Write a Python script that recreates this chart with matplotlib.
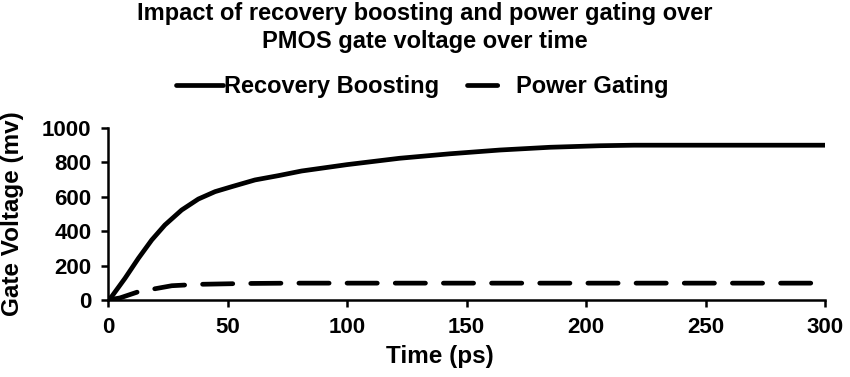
import matplotlib
matplotlib.use("Agg")
import matplotlib.pyplot as plt

plt.rcParams['font.family'] = ['Liberation Sans', 'DejaVu Sans']
plt.rcParams['font.weight'] = 'bold'

time_rb = [0, 1.5, 7.1, 12.7, 18.3, 23.8, 30.8, 37.8, 44.8, 51.8, 61.5, 71.3, 81,
           100, 122, 143, 164, 185, 206, 220, 250, 300]
volt_rb = [0, 19, 126, 242, 349, 436, 523, 587, 630, 659, 698, 723, 750,
           787, 824, 850, 872, 888, 897, 900, 900, 900]
time_pg = [0, 5, 12.7, 26.7, 37.7, 57, 77, 100, 150, 200, 250, 300]
volt_pg = [0, 12, 48, 83, 91, 96, 98, 98, 98, 98, 98, 98]

title = "Impact of recovery boosting and power gating over\nPMOS gate voltage over time"
xlabel = "Time (ps)"
ylabel = "Gate Voltage (mv)"
labels = ["Recovery Boosting", "Power Gating"]

fig = plt.figure(figsize=(8.5, 3.77), dpi=100)
ax = fig.add_axes([108 / 850, 1 - 300 / 377, 717 / 850, 172 / 377])

ax.plot(time_rb, volt_rb, color='black', lw=3.4, label=labels[0], solid_capstyle='round')
ax.plot(time_pg, volt_pg, color='black', lw=3.4, dashes=(6.4, 3.8),
        dash_capstyle='round', label=labels[1])

ax.set_xlim(0, 300)
ax.set_ylim(0, 1000)
ax.set_xticks([0, 50, 100, 150, 200, 250, 300])
ax.set_yticks([0, 200, 400, 600, 800, 1000])
for s in ['top', 'right']:
    ax.spines[s].set_visible(False)
for s in ['left', 'bottom']:
    ax.spines[s].set_linewidth(1.8)
ax.tick_params(direction='out', length=5, width=1.8, labelsize=16, pad=7)
for t in ax.get_xticklabels() + ax.get_yticklabels():
    t.set_fontweight('bold')
ax.set_xlabel(xlabel, fontsize=17.5, fontweight='bold')
ax.xaxis.set_label_coords((440 - 108) / 717, -(356 - 300) / 172)
ax.xaxis.label.set_verticalalignment('center')
ax.set_ylabel(ylabel, fontsize=17.5, fontweight='bold', labelpad=13)

fig.text(425 / 850, 1 - 2 / 377, title, ha='center', va='top', fontsize=17,
         fontweight='bold', linespacing=1.3)
leg = ax.legend(loc='center', bbox_to_anchor=((422 - 108) / 717, 1 + (300 - 87 - 172) / 172),
                ncol=2, frameon=False,
                prop={'size': 17, 'weight': 'bold'}, handlelength=2.0, handletextpad=0.05,
                columnspacing=1.2, borderaxespad=0, borderpad=0)

fig.savefig("out.png", dpi=100)
